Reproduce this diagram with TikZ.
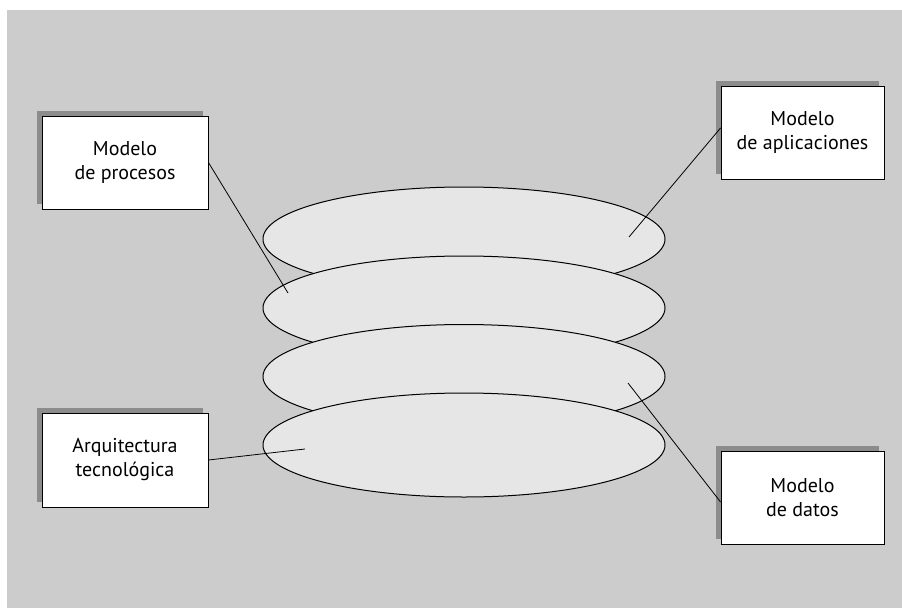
\documentclass[tikz,border=0pt]{standalone}
\usepackage{fontspec}
\setmainfont{PT Sans}
\usetikzlibrary{shapes.geometric,shadows}
\definecolor{bggray}{HTML}{CCCCCC}
\definecolor{diskfill}{HTML}{E6E6E6}
\definecolor{shadegray}{HTML}{8C8C8C}
\begin{document}
\begin{tikzpicture}[x=1pt,y=-1pt,
  box/.style={draw=black, line width=0.9pt, fill=white, minimum height=93pt,
    inner sep=0pt, align=center, font=\fontsize{20}{24}\selectfont,
    drop shadow={shadow xshift=-5pt,shadow yshift=5pt,fill=shadegray,opacity=1}},
  disk/.style={ellipse, draw=black, line width=1pt, fill=diskfill,
    minimum width=402pt, minimum height=104pt, inner sep=0pt},
  link/.style={draw=black, line width=0.8pt}]
\useasboundingbox (0,0) rectangle (902,608);
\fill[bggray] (7,10) rectangle (902,608);
% layers
\node[disk] (e1) at (464,239) {};
\node[disk] (e2) at (464,308) {};
\node[disk] (e3) at (464,376.5) {};
\node[disk] (e4) at (464,445) {};
% boxes
\node[box, minimum width=166pt] (b1) at (125,162.5) {Modelo\\de procesos};
\node[box, minimum width=163pt] (b2) at (802.5,132.5) {Modelo\\de aplicaciones};
\node[box, minimum width=166pt, minimum height=94pt] (b3) at (125,460) {Arquitectura\\tecnológica};
\node[box, minimum width=163pt] (b4) at (802.5,497.5) {Modelo\\de datos};
% connector ends
\coordinate (p1) at (629,237);
\coordinate (p2) at (288,293);
\coordinate (p3) at (628,383);
\coordinate (p4) at (305,449);
\draw[link] (b1.east) -- (p2);
\draw[link] ([yshift=4.5pt]b2.west) -- (p1);
\draw[link] (b3.east) -- (p4);
\draw[link] ([yshift=-4.5pt]b4.west) -- (p3);
\end{tikzpicture}
\end{document}
